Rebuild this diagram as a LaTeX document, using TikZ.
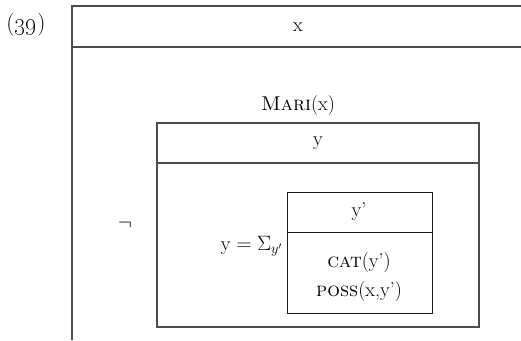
\documentclass[tikz,border=0pt]{standalone}
\begin{document}
\begin{tikzpicture}[x=1pt,y=-1pt,line width=1.3pt,
    caja/.style={draw=black!70},
    txt/.style={inner sep=0pt,font=\fontsize{20}{23}\selectfont}]
\useasboundingbox (0,0) rectangle (521,340);
% numero del ejemplo
\node[txt,font=\fontsize{23}{26}\selectfont] (num) at (26,25) {(\oldstylenums{39})};
% caja exterior
\draw[caja] (521,6) -- (72,6) -- (72,340);
\draw[caja] (72,47) -- (521,47);
\node[txt] (refx) at (298,27) {x};
\node[txt] (mari) at (298,106) {\textsc{Mari}(x)};
\node[txt] (neg) at (125,225) {$\neg$};
% caja negada
\begin{scope}
    \draw[caja] (157,123) rectangle (479,327);
    \draw[caja] (157,163) -- (479,163);
    \node[txt] (refy) at (318,143) {y};
    \node[txt,anchor=east] (suma) at (283,246) {y $=\Sigma_{y'}$};
\end{scope}
% caja de la suma
\begin{scope}
    \draw[caja,black!90,line width=1pt] (287,192) rectangle (432,313);
    \draw[caja,black!90,line width=1pt] (287,232) -- (432,232);
    \node[txt] (refyy) at (359,212) {y'};
    \node[txt] (cat) at (359,263) {\textsc{cat}(y')};
    \node[txt] (poss) at (359,292) {\textsc{poss}(x,y')};
\end{scope}
\end{tikzpicture}
\end{document}
